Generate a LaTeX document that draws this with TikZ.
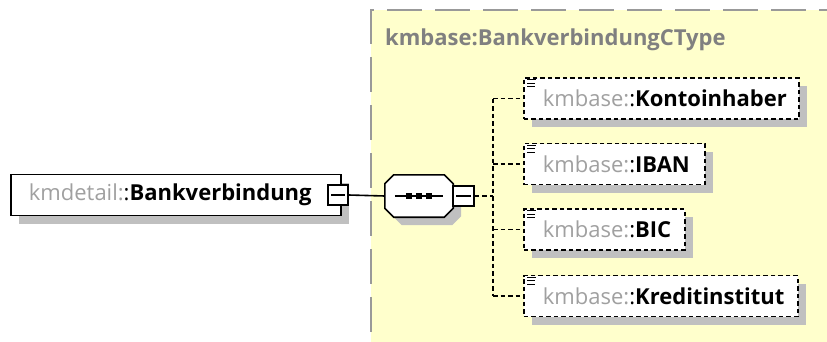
\documentclass[tikz,border=0pt]{standalone}
\usepackage{fontspec}
\setmainfont{Open Sans}
\usetikzlibrary{shadows,calc}
\definecolor{bg}{HTML}{FFFFCC}
\definecolor{pfx}{HTML}{A0A0A0}
\definecolor{tlab}{HTML}{808080}
\definecolor{shd}{HTML}{C0C0C0}
\definecolor{frm}{HTML}{999999}
\begin{document}
\begin{tikzpicture}[x=1pt,y=-1pt,
  font=\fontsize{22}{26}\selectfont,
  shadowed/.style={general shadow={fill=shd, shadow xshift=8pt, shadow yshift=-8pt}},
  elem/.style={draw=black, line width=1.8pt, fill=white, shadowed, minimum height=41pt,
    inner xsep=#1, inner ysep=0pt, align=left, anchor=west},
  elem/.default=18pt,
  optelem/.style={elem=19pt, dash pattern=on 4.5pt off 3pt},
  minusbox/.style={draw=black, line width=1.5pt, fill=white, minimum width=20pt, minimum height=20pt, inner sep=0pt},
  conn/.style={draw=black, line width=1.6pt},
  dconn/.style={draw=black, line width=1.6pt, dash pattern=on 4.5pt off 3pt},
  icon/.style={draw=black, line width=1.1pt},
]
\useasboundingbox (0,0) rectangle (827,341);
% type frame
\fill[bg] (371,10) rectangle (840,350);
\draw[frm, line width=2pt, dash pattern=on 35pt off 13pt] (371,9) -- (371,341);
\draw[frm, line width=2pt, dash pattern=on 35pt off 13pt, dash phase=32pt] (371,10) -- (827,10);
\node[anchor=west, inner sep=0pt, text=tlab, font=\fontsize{22}{26}\selectfont\bfseries] (tlabel) at (385,40) {kmbase:BankverbindungCType};

% main element
\node[elem, text width=294pt] (main) at (10,195) {{\color{pfx}kmdetail:}:\textbf{Bankverbindung}};
\node[minusbox] (m1) at (338,195) {};
\draw[line width=1.5pt] ([xshift=4pt]m1.west) -- ([xshift=-4pt]m1.east);

% sequence compositor
\node[minimum width=68pt, minimum height=42pt, inner sep=0pt] (seq) at (419,196) {};
\path[shadowed, draw=black, line width=1.6pt, fill=white]
  ($(seq.north west)+(9,0)$) -- ($(seq.north east)+(-9,0)$) -- ($(seq.north east)+(0,9)$)
  -- ($(seq.south east)+(0,-9)$) -- ($(seq.south east)+(-9,0)$) -- ($(seq.south west)+(9,0)$)
  -- ($(seq.south west)+(0,-9)$) -- ($(seq.north west)+(0,9)$) -- cycle;
\draw[line width=1.6pt] ([xshift=10pt]seq.west) -- ([xshift=-10pt]seq.east);
\foreach \dx in {-10,0,10} \fill ($(seq.center)+(\dx,0)+(-2.8,-2.8)$) rectangle ++(5.6,5.6);
\node[minusbox, minimum width=21pt] (m2) at (463.5,196) {};
\draw[line width=1.5pt] ([xshift=4pt]m2.west) -- ([xshift=-4pt]m2.east);

\draw[conn] (m1.east) -- (seq.west);

% children
\node[optelem, text width=237pt] (K) at (523,98.5) {{\color{pfx}kmbase:}:\textbf{Kontoinhaber}};
\node[optelem, text width=143pt] (I) at (523,164) {{\color{pfx}kmbase:}:\textbf{IBAN}};
\node[optelem, text width=123pt] (B) at (523,229.5) {{\color{pfx}kmbase:}:\textbf{BIC}};
\node[optelem, text width=236pt] (R) at (523,296) {{\color{pfx}kmbase:}:\textbf{Kreditinstitut}};

\foreach \n in {K,I,B,R} {
  \draw[icon] ($(\n.north west)+(4,2.5)$) -- ++(9,0);
  \draw[icon] ($(\n.north west)+(4,6)$) -- ++(8,0);
  \draw[icon] ($(\n.north west)+(4,9.5)$) -- ++(8,0);
}

\coordinate (jn) at (493,196);
\coordinate (vK) at (jn |- K.west);
\coordinate (vI) at (jn |- I.west);
\coordinate (vB) at (jn |- B.west);
\coordinate (vR) at (jn |- R.west);
\draw[dconn] (m2.east) -- (jn);
\draw[dconn] (vK) -- (vR);
\foreach \n in {K,I,B,R} \draw[dconn] (v\n) -- (\n.west);
\end{tikzpicture}
\end{document}
